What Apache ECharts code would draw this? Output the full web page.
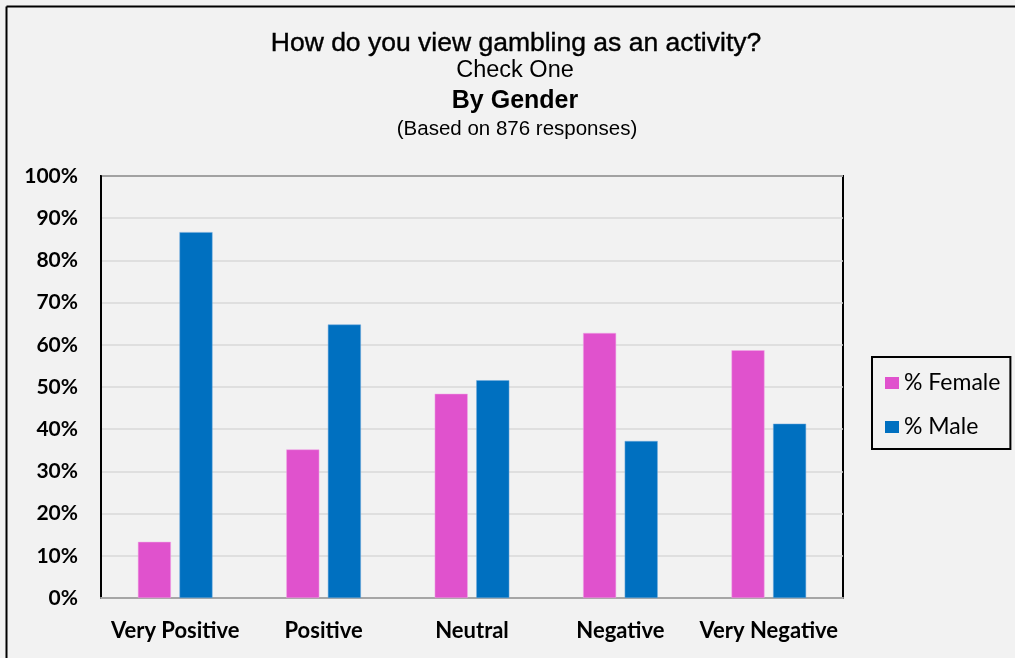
<!DOCTYPE html>
<html>
<head>
<meta charset="utf-8">
<script src="https://cdn.jsdelivr.net/npm/echarts@6/dist/echarts.min.js"></script>
<style>
html,body{margin:0;padding:0;background:#F2F2F2;}
#chart{width:1015px;height:658px;}
</style>
</head>
<body>
<div id="chart"></div>
<script>
const categories = ['Very Positive', 'Positive', 'Neutral', 'Negative', 'Very Negative'];
const femaleValues = [13.3, 35.2, 48.4, 62.8, 58.7];
const maleValues = [86.7, 64.8, 51.6, 37.2, 41.3];
const seriesNames = ['% Female', '% Male'];
const yTicks = [0, 10, 20, 30, 40, 50, 60, 70, 80, 90, 100];
const titleLines = ['How do you view gambling as an activity?', 'Check One', 'By Gender', '(Based on 876 responses)'];

const chart = echarts.init(document.getElementById('chart'), null, {renderer: 'canvas'});
const labelFont = 'Lato, "Open Sans", sans-serif';
const titleFont = '"Liberation Sans", Arial, sans-serif';

const option = {
  backgroundColor: '#F2F2F2',
  animation: false,
  graphic: [
    {type: 'line', shape: {x1: 6.5, y1: 6.5, x2: 1015, y2: 6.5}, style: {stroke: '#000', lineWidth: 2}, z: 10},
    {type: 'line', shape: {x1: 6.5, y1: 6.5, x2: 6.5, y2: 658}, style: {stroke: '#000', lineWidth: 2}, z: 10},
    {type: 'text', x: 516, y: 44, style: {text: titleLines[0], font: 'normal 26.5px ' + titleFont, fill: '#000', stroke: '#000', lineWidth: 0.4, textAlign: 'center', textVerticalAlign: 'middle'}},
    {type: 'text', x: 515, y: 71, style: {text: titleLines[1], font: 'normal 23.5px ' + titleFont, fill: '#000', textAlign: 'center', textVerticalAlign: 'middle'}},
    {type: 'text', x: 515, y: 101, style: {text: titleLines[2], font: 'bold 25px ' + titleFont, fill: '#000', textAlign: 'center', textVerticalAlign: 'middle'}},
    {type: 'text', x: 517, y: 129, style: {text: titleLines[3], font: 'normal 20.5px ' + titleFont, fill: '#000', textAlign: 'center', textVerticalAlign: 'middle'}}
  ],
  legend: {
    orient: 'vertical',
    left: 872,
    top: 357,
    data: seriesNames,
    icon: 'rect',
    itemWidth: 14,
    itemHeight: 12,
    itemGap: 20,
    padding: [14, 10, 10, 13],
    borderColor: '#000',
    borderWidth: 2,
    backgroundColor: '#F2F2F2',
    itemStyle: {borderWidth: 0},
    textStyle: {fontFamily: labelFont, fontSize: 23, color: '#000', lineHeight: 24}
  },
  grid: {
    left: 101, right: 172, top: 176, bottom: 60,
    show: true, borderColor: '#000', borderWidth: 2, backgroundColor: 'transparent'
  },
  xAxis: {
    type: 'category',
    data: categories,
    axisLine: {show: true, lineStyle: {color: '#A6A6A6', width: 2}},
    axisTick: {show: false},
    axisLabel: {fontFamily: labelFont, fontWeight: 'bold', fontSize: 22, color: '#000', margin: 22, interval: 0}
  },
  yAxis: {
    type: 'value',
    min: 0, max: 100, interval: 10,
    axisLine: {show: true, lineStyle: {color: '#000', width: 2}},
    axisTick: {show: false},
    splitLine: {lineStyle: {color: '#D9D9D9', width: 1.5}},
    axisLabel: {
      fontFamily: labelFont, fontWeight: 'bold', fontSize: 21, color: '#000', margin: 23,
      formatter: function (v) { return yTicks.indexOf(v) >= 0 ? v + '%' : ''; }
    }
  },
  series: [
    {
      name: seriesNames[0], type: 'bar', data: femaleValues,
      barWidth: 33, barGap: '26%',
      itemStyle: {color: '#E052CD', borderColor: '#F0A8E6', borderWidth: 0.5}
    },
    {
      name: seriesNames[1], type: 'bar', data: maleValues,
      barWidth: 33, barGap: '26%',
      itemStyle: {color: '#0070C0', borderColor: '#6FA8DC', borderWidth: 0.5}
    }
  ]
};
chart.setOption(option);
</script>
</body>
</html>
